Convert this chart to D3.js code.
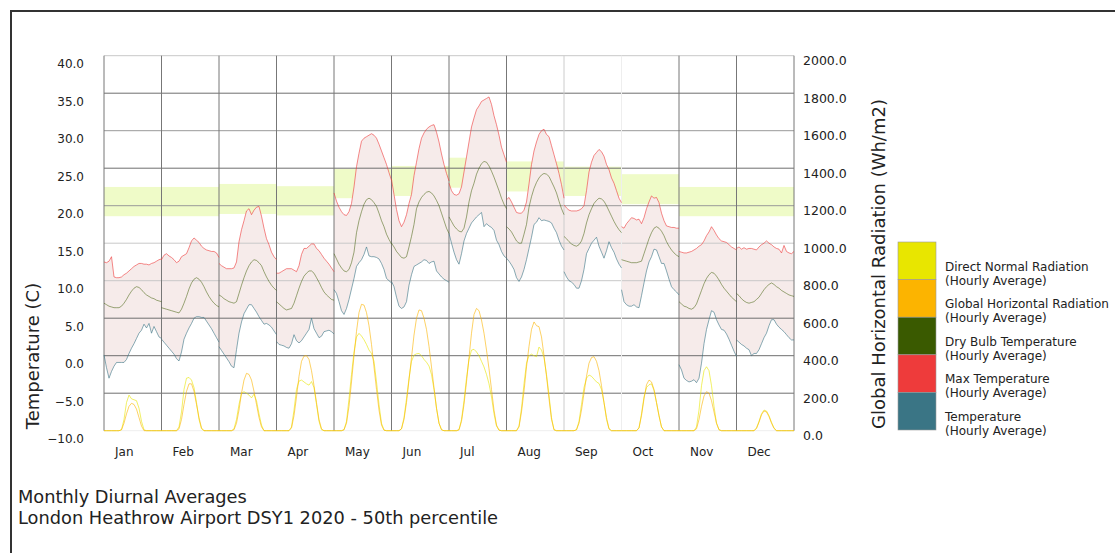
<!DOCTYPE html>
<html>
<head>
<meta charset="utf-8">
<script src="https://cdn.jsdelivr.net/npm/d3@7/dist/d3.min.js"></script>
<style>
body { margin: 0; background: #fff; }
text { font-family: "DejaVu Sans", Verdana, sans-serif; fill: #222; }
</style>
</head>
<body>
<div id="chart"></div>
<script>
// month columns
const months = ["Jan", "Feb", "Mar", "Apr", "May", "Jun", "Jul", "Aug", "Sep", "Oct", "Nov", "Dec"];

// comfort band (C) per month
const bandLow  = [18.6, 18.6, 18.9, 18.7, 21.0, 21.3, 22.4, 21.9, 21.3, 20.2, 18.6, 18.6];
const bandHigh = [22.5, 22.5, 22.9, 22.6, 24.9, 25.3, 26.4, 25.9, 25.2, 24.2, 22.5, 22.5];

// max temperature, hourly average (C)
const maxTemp = [
  [12.5, 12.4, 12.6, 13.2, 10.5, 10.4, 10.4, 10.5, 10.8, 11.0, 11.3, 11.6, 11.9, 12.1, 12.3, 12.3, 12.2, 12.2, 12.1, 12.3, 12.4, 12.6, 12.8, 12.9],
  [12.8, 13.4, 13.6, 13.3, 13.1, 12.8, 12.4, 12.6, 13.2, 13.4, 13.6, 14.4, 15.3, 15.7, 15.4, 15.1, 14.6, 14.3, 14.1, 14.0, 13.9, 13.9, 13.7, 13.1],
  [12.3, 12.0, 11.8, 11.6, 11.6, 11.6, 11.7, 12.5, 15.2, 16.8, 18.0, 19.3, 19.6, 18.8, 19.4, 19.8, 19.9, 18.6, 17.0, 15.6, 14.8, 13.8, 13.2, 12.8],
  [11.0, 11.0, 11.2, 11.4, 11.6, 11.6, 11.6, 11.4, 11.2, 12.0, 13.5, 14.3, 14.3, 14.6, 14.9, 14.9, 14.3, 14.0, 13.5, 13.0, 12.6, 12.2, 11.7, 11.2],
  [21.7, 20.6, 19.8, 19.2, 18.8, 18.7, 19.2, 20.3, 22.5, 25.2, 27.0, 28.6, 29.0, 29.2, 29.4, 29.6, 29.4, 29.0, 28.2, 27.3, 26.4, 25.5, 24.4, 23.4],
  [23.5, 21.5, 19.5, 18.0, 17.2, 17.8, 18.8, 20.3, 21.5, 24.0, 25.8, 27.6, 29.0, 29.7, 30.2, 30.5, 30.7, 30.8, 29.8, 28.5, 26.9, 25.5, 24.3, 23.3],
  [23.0, 22.0, 21.5, 21.4, 21.6, 22.5, 24.5, 26.5, 28.5, 30.5, 31.7, 32.8, 33.3, 33.9, 34.1, 34.3, 34.5, 33.5, 32.0, 30.8, 29.4, 27.8, 26.8, 25.8],
  [20.8, 21.1, 20.5, 19.8, 19.1, 19.0, 19.0, 19.4, 20.5, 22.9, 25.5, 27.3, 28.5, 29.5, 30.0, 30.2, 29.5, 29.2, 28.0, 26.8, 25.6, 24.3, 22.8, 21.0],
  [20.1, 19.7, 19.4, 19.3, 19.3, 19.3, 19.4, 19.6, 20.0, 22.0, 24.5, 25.8, 26.7, 27.1, 27.5, 27.2, 26.6, 25.5, 24.8, 23.7, 23.0, 22.0, 21.0, 20.4],
  [17.2, 17.0, 17.6, 18.0, 18.4, 18.3, 18.1, 18.2, 17.6, 18.4, 19.6, 20.5, 21.3, 21.0, 21.1, 20.4, 19.0, 18.0, 17.3, 17.2, 17.1, 17.1, 17.0, 17.0],
  [13.9, 13.8, 13.7, 13.7, 13.8, 13.9, 14.1, 14.3, 14.6, 14.8, 15.3, 16.0, 16.5, 17.2, 16.7, 16.1, 15.6, 15.3, 15.2, 15.1, 14.8, 14.5, 14.3, 14.1],
  [14.3, 14.5, 14.2, 14.4, 14.2, 14.3, 14.3, 14.2, 14.1, 14.5, 14.8, 15.0, 15.3, 15.0, 14.8, 14.5, 14.3, 14.2, 13.7, 14.7, 13.9, 13.7, 13.6, 13.9]
];

// dry bulb temperature, hourly average (C)
const dryBulb = [
  [7.0, 6.8, 6.6, 6.5, 6.4, 6.4, 6.4, 6.6, 7.0, 7.5, 8.1, 8.6, 9.0, 9.2, 9.1, 8.8, 8.4, 8.1, 7.9, 7.7, 7.6, 7.4, 7.3, 7.2],
  [6.4, 6.3, 6.2, 6.1, 6.0, 5.9, 5.8, 5.7, 6.2, 7.0, 7.9, 8.9, 9.7, 10.2, 10.4, 10.2, 9.8, 9.2, 8.5, 7.9, 7.4, 7.0, 6.7, 6.5],
  [8.1, 7.9, 7.6, 7.4, 7.2, 7.1, 7.0, 7.2, 8.3, 9.4, 10.4, 11.3, 12.0, 12.5, 12.8, 12.7, 12.4, 12.0, 11.2, 10.5, 9.9, 9.4, 9.0, 8.7],
  [7.2, 6.9, 6.6, 6.3, 6.1, 6.2, 6.3, 7.0, 8.0, 9.0, 9.9, 10.6, 11.0, 11.3, 11.3, 11.0, 10.4, 9.8, 9.1, 8.5, 8.1, 7.8, 7.5, 7.4],
  [13.6, 12.9, 12.2, 11.7, 11.3, 11.2, 11.5, 12.4, 13.8, 16.4, 18.0, 19.2, 20.2, 20.8, 21.0, 20.8, 20.4, 19.9, 19.0, 18.0, 17.2, 16.2, 15.5, 14.9],
  [15.0, 14.5, 13.9, 13.5, 13.1, 13.0, 13.2, 14.5, 15.9, 17.5, 19.6, 20.5, 21.1, 21.5, 21.8, 21.9, 21.7, 21.3, 20.7, 20.0, 19.0, 18.0, 17.0, 16.3],
  [18.5, 17.9, 17.3, 16.9, 16.6, 16.5, 17.0, 18.5, 20.5, 22.0, 23.0, 24.2, 25.0, 25.6, 25.9, 25.8, 25.3, 24.6, 23.8, 22.9, 22.0, 21.0, 20.2, 19.6],
  [17.2, 16.9, 16.5, 15.9, 15.3, 15.0, 15.0, 16.2, 17.5, 19.8, 21.2, 22.3, 23.1, 23.7, 24.1, 24.3, 24.2, 23.9, 23.2, 22.5, 21.7, 20.6, 19.6, 18.8],
  [15.9, 15.6, 15.2, 14.9, 14.7, 14.6, 14.8, 15.3, 16.3, 17.7, 18.8, 19.6, 20.3, 20.7, 21.0, 20.9, 20.6, 20.0, 19.3, 18.6, 17.9, 17.3, 16.8, 16.4],
  [12.8, 12.7, 12.6, 12.5, 12.4, 12.4, 12.4, 12.5, 12.6, 13.6, 14.6, 15.6, 16.4, 17.0, 17.2, 17.0, 16.6, 16.0, 15.2, 14.6, 14.1, 13.7, 13.4, 13.2],
  [7.2, 6.9, 6.6, 6.5, 6.3, 6.2, 6.4, 6.9, 7.8, 8.7, 9.6, 10.3, 10.8, 11.1, 11.0, 10.6, 10.1, 9.5, 9.0, 8.6, 8.2, 7.8, 7.5, 7.2],
  [8.3, 8.0, 7.6, 7.3, 7.1, 7.0, 7.1, 7.2, 7.5, 7.8, 8.3, 8.8, 9.2, 9.5, 9.7, 9.5, 9.2, 9.0, 8.7, 8.5, 8.3, 8.1, 8.0, 7.9]
];

// temperature (minimum), hourly average (C)
const minTemp = [
  [0.1, -1.6, -3.0, -2.1, -1.4, -0.9, -0.9, -0.9, -0.9, -0.5, 0.3, 1.0, 1.6, 2.3, 3.0, 3.4, 4.2, 3.7, 4.3, 3.0, 3.9, 3.2, 2.5, 2.3],
  [2.2, 1.8, 1.4, 1.0, 0.6, 0.2, -0.4, -0.7, 0.5, 2.2, 3.0, 3.7, 4.3, 5.0, 5.2, 5.2, 5.1, 5.1, 4.6, 4.1, 3.6, 3.0, 2.4, 1.8],
  [1.2, 0.7, 0.2, -0.3, -0.8, -1.4, -1.6, 0.8, 3.0, 4.5, 5.6, 6.2, 6.8, 6.8, 6.3, 5.8, 5.2, 4.7, 4.2, 4.3, 4.1, 3.8, 3.3, 2.8],
  [1.9, 1.5, 1.4, 1.3, 1.1, 1.0, 1.6, 2.8, 2.0, 1.7, 2.0, 2.5, 3.0, 3.5, 5.0, 3.6, 3.0, 2.4, 2.6, 3.2, 3.3, 3.4, 3.2, 2.9],
  [8.8, 8.3, 7.2, 6.0, 5.5, 6.3, 7.5, 8.9, 10.3, 11.9, 12.4, 12.8, 13.5, 14.5, 13.3, 13.2, 13.2, 13.1, 12.9, 12.3, 11.5, 10.3, 10.0, 9.7],
  [9.9, 9.2, 7.8, 6.6, 6.3, 6.5, 7.2, 9.4, 10.8, 11.9, 12.1, 12.3, 12.5, 12.8, 12.7, 12.3, 12.5, 12.6, 11.3, 10.9, 10.5, 10.2, 10.0, 9.8],
  [16.3, 15.0, 13.8, 12.8, 12.2, 13.6, 15.3, 16.3, 17.0, 17.7, 18.1, 18.5, 18.8, 19.1, 17.2, 17.6, 17.3, 17.1, 16.7, 15.4, 14.8, 13.9, 13.3, 13.0],
  [13.0, 12.6, 12.1, 11.5, 10.4, 9.9, 10.5, 11.5, 12.8, 14.3, 15.8, 17.5, 17.8, 18.4, 18.0, 18.1, 18.0, 17.9, 17.7, 17.0, 16.4, 15.4, 14.6, 14.1],
  [11.2, 10.5, 10.0, 9.8, 9.5, 9.0, 9.0, 10.0, 11.5, 13.6, 14.3, 15.0, 15.4, 15.8, 14.6, 13.8, 13.0, 14.0, 15.2, 14.4, 13.8, 12.9, 12.2, 11.7],
  [8.8, 7.2, 6.8, 6.6, 6.6, 6.8, 6.5, 6.4, 8.0, 9.7, 11.3, 12.5, 13.2, 14.2, 14.1, 13.2, 12.3, 12.3, 11.3, 10.2, 9.2, 8.8, 8.5, 8.1],
  [-1.2, -1.9, -3.0, -3.3, -3.5, -3.4, -3.2, -3.6, -3.0, -1.0, 1.6, 3.5, 4.8, 6.0, 5.8, 4.8, 4.1, 3.5, 3.4, 2.9, 2.2, 1.4, 0.6, -0.1],
  [2.1, 1.8, 1.5, 1.3, 1.0, 0.8, 0.0, 0.3, 0.3, 0.8, 1.6, 2.4, 3.0, 4.0, 4.8, 4.8, 4.2, 3.8, 3.5, 3.2, 2.8, 2.4, 2.1, 2.1]
];

// global horizontal radiation, hourly average (Wh/m2)
const globalRad = [
  [0, 0, 0, 0, 0, 0, 0, 5, 40, 90, 130, 146, 140, 115, 70, 25, 0, 0, 0, 0, 0, 0, 0, 0],
  [0, 0, 0, 0, 0, 0, 0, 10, 60, 140, 210, 250, 250, 210, 140, 70, 15, 0, 0, 0, 0, 0, 0, 0],
  [0, 0, 0, 0, 0, 0, 5, 40, 110, 200, 270, 306, 300, 270, 210, 140, 70, 20, 0, 0, 0, 0, 0, 0],
  [0, 0, 0, 0, 0, 0, 15, 80, 180, 290, 370, 398, 400, 380, 320, 240, 150, 60, 10, 0, 0, 0, 0, 0],
  [0, 0, 0, 0, 5, 40, 130, 260, 400, 530, 630, 674, 670, 630, 560, 460, 340, 220, 110, 30, 3, 0, 0, 0],
  [0, 0, 0, 0, 10, 60, 150, 270, 390, 510, 600, 644, 640, 600, 540, 450, 340, 230, 120, 40, 5, 0, 0, 0],
  [0, 0, 0, 0, 5, 50, 140, 260, 390, 520, 620, 652, 640, 590, 520, 430, 330, 220, 110, 30, 3, 0, 0, 0],
  [0, 0, 0, 0, 0, 20, 100, 210, 340, 450, 540, 580, 560, 555, 500, 400, 290, 170, 60, 5, 0, 0, 0, 0],
  [0, 0, 0, 0, 0, 5, 40, 110, 200, 290, 360, 390, 395, 370, 320, 240, 150, 70, 10, 0, 0, 0, 0, 0],
  [0, 0, 0, 0, 0, 0, 0, 15, 80, 170, 245, 270, 260, 220, 150, 80, 20, 0, 0, 0, 0, 0, 0, 0],
  [0, 0, 0, 0, 0, 0, 0, 10, 60, 130, 185, 208, 200, 160, 100, 40, 5, 0, 0, 0, 0, 0, 0, 0],
  [0, 0, 0, 0, 0, 0, 0, 0, 12, 45, 85, 105, 100, 75, 40, 12, 0, 0, 0, 0, 0, 0, 0, 0]
];

// direct normal radiation, hourly average (Wh/m2)
const directRad = [
  [0, 0, 0, 0, 0, 0, 0, 5, 60, 150, 190, 170, 165, 160, 120, 50, 5, 0, 0, 0, 0, 0, 0, 0],
  [0, 0, 0, 0, 0, 0, 0, 20, 100, 220, 280, 284, 270, 230, 150, 60, 10, 0, 0, 0, 0, 0, 0, 0],
  [0, 0, 0, 0, 0, 0, 10, 60, 140, 200, 208, 200, 190, 175, 195, 160, 90, 30, 0, 0, 0, 0, 0, 0],
  [0, 0, 0, 0, 0, 0, 20, 110, 220, 265, 270, 260, 250, 243, 262, 230, 140, 50, 5, 0, 0, 0, 0, 0],
  [0, 0, 0, 0, 5, 50, 170, 300, 420, 500, 519, 505, 485, 460, 430, 412, 370, 260, 140, 40, 3, 0, 0, 0],
  [0, 0, 0, 0, 10, 70, 170, 280, 370, 403, 410, 412, 400, 380, 365, 345, 300, 220, 120, 40, 5, 0, 0, 0],
  [0, 0, 0, 0, 5, 60, 160, 280, 380, 430, 434, 420, 400, 370, 340, 300, 250, 180, 90, 25, 3, 0, 0, 0],
  [0, 0, 0, 0, 0, 25, 120, 250, 360, 400, 408, 400, 395, 446, 430, 390, 300, 190, 70, 5, 0, 0, 0, 0],
  [0, 0, 0, 0, 0, 5, 50, 140, 230, 280, 297, 290, 275, 260, 252, 220, 150, 60, 10, 0, 0, 0, 0, 0],
  [0, 0, 0, 0, 0, 0, 0, 15, 90, 180, 230, 245, 250, 215, 150, 80, 20, 0, 0, 0, 0, 0, 0, 0],
  [0, 0, 0, 0, 0, 0, 0, 20, 110, 240, 320, 341, 320, 240, 130, 40, 5, 0, 0, 0, 0, 0, 0, 0],
  [0, 0, 0, 0, 0, 0, 0, 0, 15, 50, 90, 110, 105, 80, 45, 15, 0, 0, 0, 0, 0, 0, 0, 0]
];

const tempTicks = [-10, -5, 0, 5, 10, 15, 20, 25, 30, 35, 40];
const radTicks = [0, 200, 400, 600, 800, 1000, 1200, 1400, 1600, 1800, 2000];

const legendItems = [
  {name: "Direct Normal Radiation", color: "#e8e600"},
  {name: "Global Horizontal Radiation", color: "#fcb400"},
  {name: "Dry Bulb Temperature", color: "#3a5a00"},
  {name: "Max Temperature", color: "#ee3b3b"},
  {name: "Temperature", color: "#3a7585"}
];

const width = 1115, height = 553;
const plot = {left: 104, right: 794, top: 55.7, bottom: 430.7};

const svg = d3.select("#chart")
    .append("svg")
    .attr("width", width)
    .attr("height", height);

// outer frame (top + left edge)
svg.append("path")
    .attr("d", `M11,${height} L11,11 L${width},11`)
    .attr("fill", "none")
    .attr("stroke", "#333")
    .attr("stroke-width", 2);

const x = d3.scaleBand()
    .domain(months)
    .range([plot.left, plot.right])
    .padding(0);

const hx = d3.scaleLinear()
    .domain([0, 23])
    .range([0, x.bandwidth()]);

const yT = d3.scaleLinear()
    .domain([-10, 40])
    .range([plot.bottom, plot.top]);

const yR = d3.scaleLinear()
    .domain([0, 2000])
    .range([plot.bottom, plot.top]);

// comfort band
svg.append("g")
    .selectAll("rect")
    .data(months)
    .enter()
    .append("rect")
    .attr("x", d => x(d))
    .attr("width", x.bandwidth())
    .attr("y", (d, i) => yT(bandHigh[i]))
    .attr("height", (d, i) => yT(bandLow[i]) - yT(bandHigh[i]))
    .attr("fill", "#effbc8");

// min / max range fill
const area = d3.area()
    .x(d => d.x)
    .y0(d => yT(d.lo))
    .y1(d => yT(d.hi));

months.forEach((m, mi) => {
    const pts = maxTemp[mi].map((v, h) => ({x: x(m) + hx(h), lo: minTemp[mi][h], hi: v}));
    svg.append("path")
        .attr("d", area(pts))
        .attr("fill", "#f6ebea");
});

// grid
const lightLines = [10, 15, 40];
svg.append("g")
    .selectAll("line")
    .data(tempTicks)
    .enter()
    .append("line")
    .attr("x1", plot.left)
    .attr("x2", plot.right)
    .attr("y1", d => yT(d))
    .attr("y2", d => yT(d))
    .attr("stroke", d => d === -10 ? "#eee" : (lightLines.includes(d) ? "#c8c8c8" : (d === 20 || d === 30 ? "#999" : "#6e6e6e")))
    .attr("stroke-width", 1);

const vLines = months.map(m => x(m)).concat([plot.right]);
svg.append("g")
    .selectAll("line")
    .data(vLines)
    .enter()
    .append("line")
    .attr("x1", d => d)
    .attr("x2", d => d)
    .attr("y1", plot.top)
    .attr("y2", plot.bottom)
    .attr("stroke", (d, i) => i === 9 ? "#eee" : (i === 8 ? "#ccc" : "#777"))
    .attr("stroke-width", 1);

// series lines
const series = [
    {data: directRad, y: yR, color: "#e8e600", op: 0.6},
    {data: globalRad, y: yR, color: "#fcb400", op: 0.6},
    {data: minTemp, y: yT, color: "#3a7585", op: 0.6},
    {data: dryBulb, y: yT, color: "#3a5a00", op: 0.5},
    {data: maxTemp, y: yT, color: "#ee3b3b", op: 0.6}
];

series.forEach(s => {
    months.forEach((m, mi) => {
        const line = d3.line()
            .x((d, h) => x(m) + hx(h))
            .y(d => s.y(d));
        svg.append("path")
            .attr("d", line(s.data[mi]))
            .attr("fill", "none")
            .attr("stroke", s.color)
            .attr("stroke-opacity", s.op)
            .attr("stroke-width", 1);
    });
});

// left axis labels
const leftAxis = svg.append("g")
    .attr("transform", `translate(${plot.left},8)`)
    .call(d3.axisLeft(yT).tickValues(tempTicks).tickFormat(d3.format(".1f")).tickSize(0).tickPadding(20));
leftAxis.select(".domain").remove();
leftAxis.selectAll("text").style("font-size", "12px").style("font-family", "'DejaVu Sans', sans-serif").attr("fill", "#222");

// right axis labels
const rightAxis = svg.append("g")
    .attr("transform", `translate(${plot.right},5)`)
    .call(d3.axisRight(yR).tickValues(radTicks).tickFormat(d3.format(".1f")).tickSize(0).tickPadding(9));
rightAxis.select(".domain").remove();
rightAxis.selectAll("text").style("font-size", "12.5px").style("font-family", "'DejaVu Sans', sans-serif").attr("fill", "#222");

// month labels
svg.append("g")
    .selectAll("text")
    .data(months)
    .enter()
    .append("text")
    .attr("x", d => x(d) + 11)
    .attr("y", 456)
    .style("font-size", "12px")
    .text(d => d);

// axis titles
svg.append("text")
    .attr("transform", "translate(39,356) rotate(-90)")
    .attr("text-anchor", "middle")
    .style("font-size", "18px")
    .text("Temperature (C)");

svg.append("text")
    .attr("transform", "translate(885,264) rotate(-90)")
    .attr("text-anchor", "middle")
    .style("font-size", "18px")
    .text("Global Horizontal Radiation (Wh/m2)");

// legend
const sw = {x: 898, y: 242, w: 38, h: 37.6};
const legend = svg.append("g");
legend.selectAll("rect")
    .data(legendItems)
    .enter()
    .append("rect")
    .attr("x", sw.x)
    .attr("y", (d, i) => sw.y + i * sw.h)
    .attr("width", sw.w)
    .attr("height", sw.h)
    .attr("fill", d => d.color)
    .attr("stroke", "#999")
    .attr("stroke-width", 0.6);

legendItems.forEach((d, i) => {
    const t = legend.append("text")
        .attr("x", 945)
        .attr("y", sw.y + (i + 1) * sw.h - 9)
        .style("font-size", "12px");
    t.append("tspan").attr("x", 945).text(d.name);
    t.append("tspan").attr("x", 945).attr("dy", 14).text("(Hourly Average)");
});

// title
const title = svg.append("text")
    .attr("x", 18)
    .attr("y", 503)
    .style("font-size", "17.8px");
title.append("tspan").attr("x", 18).text("Monthly Diurnal Averages");
title.append("tspan").attr("x", 18).attr("dy", 21).text("London Heathrow Airport DSY1 2020 - 50th percentile");
</script>
</body>
</html>
